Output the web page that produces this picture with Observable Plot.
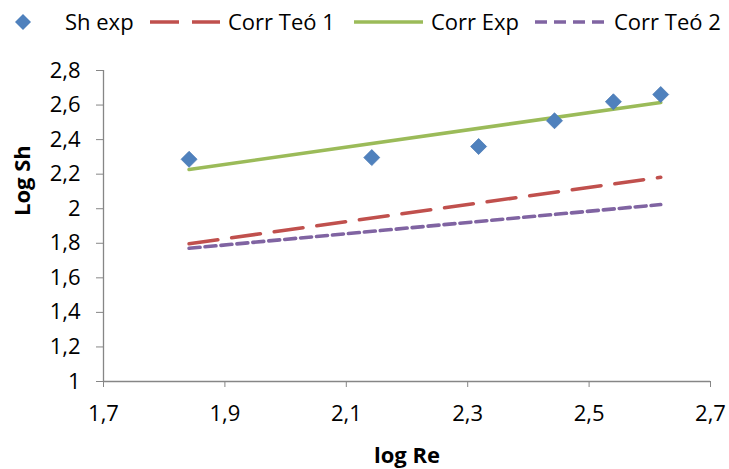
<!DOCTYPE html>
<html>
<head>
<meta charset="utf-8">
<script src="https://cdn.jsdelivr.net/npm/d3@7"></script>
<script src="https://cdn.jsdelivr.net/npm/@observablehq/plot@0.6"></script>
<style>
  html, body { margin: 0; padding: 0; background: #fff; }
  body { width: 729px; height: 469px; overflow: hidden; font-family: "Open Sans", Lato, sans-serif; }
  #legend { display: block; width: 729px; height: 45px; }
  #chart svg { display: block; }
</style>
</head>
<body>
<svg id="legend" width="729" height="45"></svg>
<div id="chart"></div>
<script>
// ---- data ----
const logRe = [1.841, 2.142, 2.318, 2.443, 2.540, 2.618];
const shExp = [2.286, 2.296, 2.36, 2.509, 2.619, 2.661];
const lineX = [1.841, 2.618];
const corrTeo1 = [1.797, 2.182];
const corrExp = [2.227, 2.615];
const corrTeo2 = [1.771, 2.024];
const xTicks = [1.7, 1.9, 2.1, 2.3, 2.5, 2.7];
const yTicks = [1, 1.2, 1.4, 1.6, 1.8, 2, 2.2, 2.4, 2.6, 2.8];
const seriesNames = ["Sh exp", "Corr Teó 1", "Corr Exp", "Corr Teó 2"];
const colors = ["#4f81bd", "#c0504d", "#9bbb59", "#8064a2"];

const points = logRe.map((x, i) => ({x, y: shExp[i]}));
const mkLine = ys => lineX.map((x, i) => ({x, y: ys[i]}));
const fmt = d => String(+d.toFixed(1)).replace(".", ",");
const font = "'Open Sans', Lato, sans-serif";
const axisColor = "#868686";
const fs = 22;

const chart = Plot.plot({
  width: 729,
  height: 424,
  marginTop: 25,
  marginBottom: 88,
  marginLeft: 103,
  marginRight: 19,
  style: {fontFamily: font, fontSize: fs + "px", color: "#000", background: "#fff"},
  x: {domain: [1.7, 2.7], label: null},
  y: {domain: [1, 2.8], label: null},
  marks: [
    Plot.axisX({ticks: xTicks, tickFormat: fmt, tickSize: 6, tickPadding: 18, stroke: axisColor, strokeOpacity: 1, fill: "#000", fontSize: fs, label: null}),
    Plot.axisY({ticks: yTicks, tickFormat: fmt, tickSize: 7, tickPadding: 16, stroke: axisColor, strokeOpacity: 1, fill: "#000", fontSize: fs, label: null}),
    Plot.ruleY([1], {stroke: axisColor, strokeWidth: 1.3}),
    Plot.ruleX([1.7], {stroke: axisColor, strokeWidth: 1.3}),
    Plot.line(mkLine(corrTeo2), {x: "x", y: "y", stroke: colors[3], strokeWidth: 3.6, strokeDasharray: "11,5"}),
    Plot.line(mkLine(corrTeo1), {x: "x", y: "y", stroke: colors[1], strokeWidth: 3.6, strokeDasharray: "29,14", strokeLinecap: "round"}),
    Plot.line(mkLine(corrExp), {x: "x", y: "y", stroke: colors[2], strokeWidth: 3.6}),
    Plot.dot(points, {x: "x", y: "y", symbol: "diamond2", r: 7.2, fill: colors[0], stroke: "#4a7ab5", strokeWidth: 0.8}),
    Plot.text(["log Re"], {frameAnchor: "bottom", lineAnchor: "middle", dy: 74, fontWeight: "bold", fontSize: fs}),
    Plot.text(["Log Sh"], {frameAnchor: "left", lineAnchor: "middle", dx: -81, dy: -10, rotate: -90, fontWeight: "bold", fontSize: fs})
  ]
});
document.getElementById("chart").appendChild(chart);

// ---- legend ----
const lg = d3.select("#legend");
const ly = 22;
lg.append("path").attr("d", d3.symbol(d3.symbolDiamond2, Math.PI * 7.2 * 7.2)()).attr("transform", `translate(23,${ly})`).attr("fill", colors[0]);
const sw = [
  {x1: 150, x2: 220, c: colors[1], dash: "29,13", cap: "butt"},
  {x1: 354, x2: 423, c: colors[2], dash: null, cap: "butt"},
  {x1: 535, x2: 607, c: colors[3], dash: "12,7", cap: "butt"}
];
sw.forEach(s => {
  lg.append("line").attr("x1", s.x1).attr("x2", s.x2).attr("y1", ly).attr("y2", ly)
    .attr("stroke", s.c).attr("stroke-width", 3.6).attr("stroke-dasharray", s.dash).attr("stroke-linecap", s.cap);
});
const tx = [65, 228, 431, 614];
seriesNames.forEach((n, i) => {
  lg.append("text").attr("x", tx[i]).attr("y", ly + 8).attr("font-family", font).attr("font-size", fs).attr("fill", "#000").text(n);
});
</script>
</body>
</html>
